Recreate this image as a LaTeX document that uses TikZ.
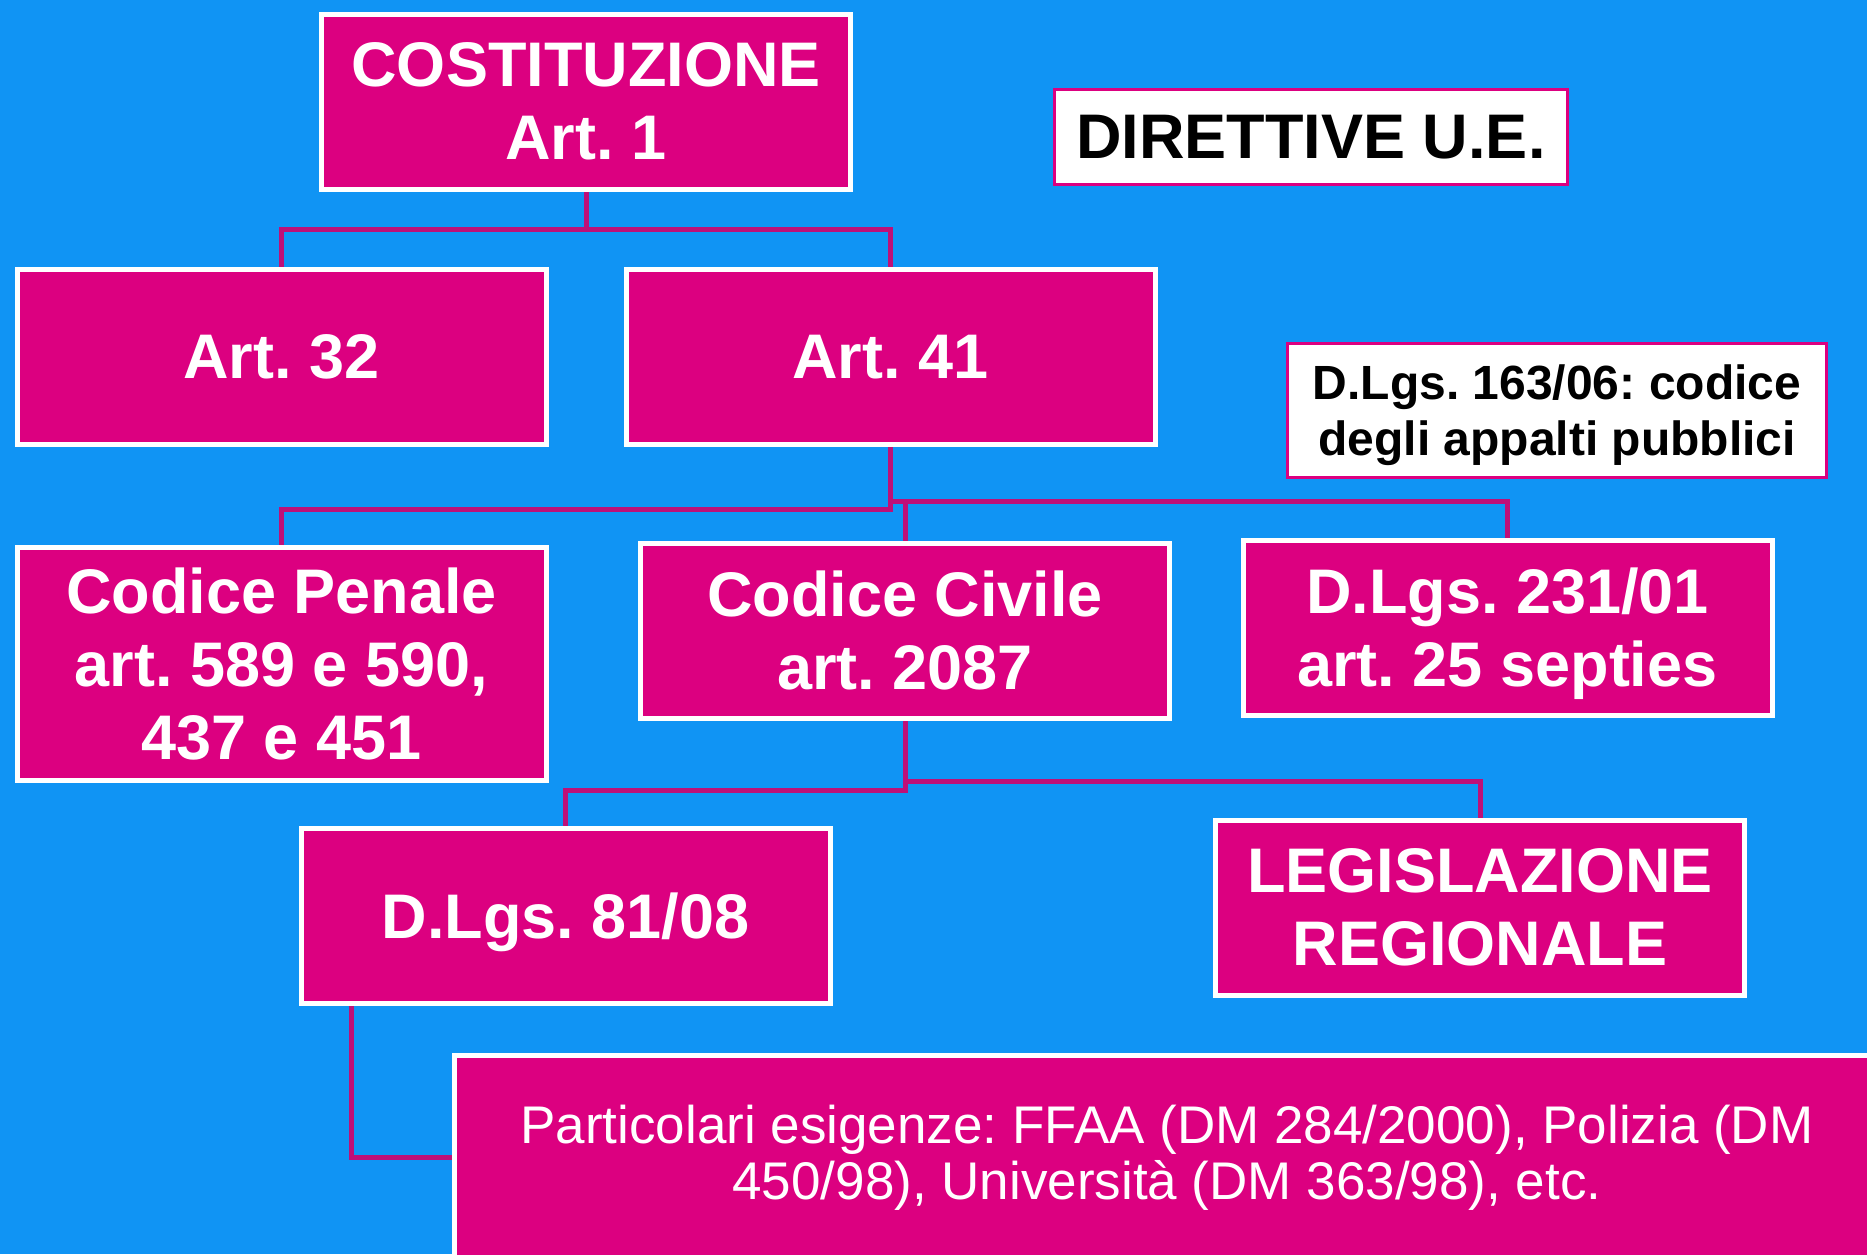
\documentclass[tikz,border=0pt]{standalone}
\usepackage{fontspec}
\setmainfont{Liberation Sans}
\usetikzlibrary{backgrounds}
\pgfdeclarelayer{bottom}
\pgfsetlayers{bottom,background,main}
\frenchspacing
\definecolor{bg}{RGB}{16,148,244}
\definecolor{boxfill}{RGB}{220,0,128}
\definecolor{linec}{RGB}{190,16,120}
\begin{document}
\begin{tikzpicture}[x=1pt,y=-1pt,
  box/.style={draw=white, line width=5pt, fill=boxfill, text=white,
    font=\bfseries\fontsize{63}{73}\selectfont, align=center,
    minimum width=529pt, minimum height=175pt, inner sep=0pt},
  wbox/.style={draw=boxfill, line width=3pt, fill=white, text=black,
    font=\bfseries\fontsize{63}{73}\selectfont, align=center, inner sep=0pt},
  conn/.style={draw=linec, line width=5pt}]
\useasboundingbox (0,0) rectangle (1867,1254);
\begin{pgfonlayer}{bottom}
\fill[bg] (0,0) rectangle (1867,1254);
\end{pgfonlayer}
\clip (0,0) rectangle (1867,1254);

% nodes
\node[box] (cost) at (586,101.5) {COSTITUZIONE\\Art. 1};
\node[wbox, minimum width=513pt, minimum height=95pt] (dir) at (1311,137) {DIRETTIVE U.E.};
\node[box] (art32) at (281.5,357) {Art. 32};
\node[box] (art41) at (890.5,357) {Art. 41};
\node[wbox, minimum width=539pt, minimum height=134pt, text depth=0pt, font=\bfseries\fontsize{48}{56}\selectfont] (d163) at (1557,410.5) {D.Lgs. 163/06: codice\\degli appalti pubblici};
\node[box, minimum height=233pt] (penale) at (281.5,664) {Codice Penale\\art. 589 e 590,\\437 e 451};
\node[box] (civile) at (905,630.5) {Codice Civile\\art. 2087};
\node[box, text depth=0pt] (d231) at (1507.5,627.5) {D.Lgs. 231/01\\art. 25 septies};
\node[box, text depth=0pt] (d81) at (565.5,916) {D.Lgs. 81/08};
\node[box] (legis) at (1480,907.5) {LEGISLAZIONE\\REGIONALE};
\node[box, minimum width=1425pt, minimum height=204pt, font=\fontsize{53}{56}\selectfont] (partic) at (1167,1157.5) {Particolari esigenze: FFAA (DM 284/2000), Polizia (DM\\450/98), Università (DM 363/98), etc.};

% bus coordinates
\coordinate (b1) at (0,229);
\coordinate (b2) at (0,509);
\coordinate (b3) at (0,501);
\coordinate (b4) at (0,790);
\coordinate (b5) at (0,781);
\coordinate (d81x) at ([xshift=53pt]d81.south west);

% connectors behind the boxes
\begin{scope}[on background layer]
\draw[conn] (cost.south) -- (cost.south |- b1) -| (art32.north);
\draw[conn] (cost.south |- b1) -| (art41.north);
\draw[conn] (art41.south) -- (art41.south |- b2) -| (penale.north);
\draw[conn] (art41.south |- b3) -| (d231.north);
\draw[conn] (civile.north |- b3) -- (civile.north);
\draw[conn] (civile.south) -- (civile.south |- b4) -| (d81.north);
\draw[conn] (civile.south |- b5) -| (legis.north);
\draw[conn] (d81x) |- (partic.west);
\end{scope}
\end{tikzpicture}
\end{document}
